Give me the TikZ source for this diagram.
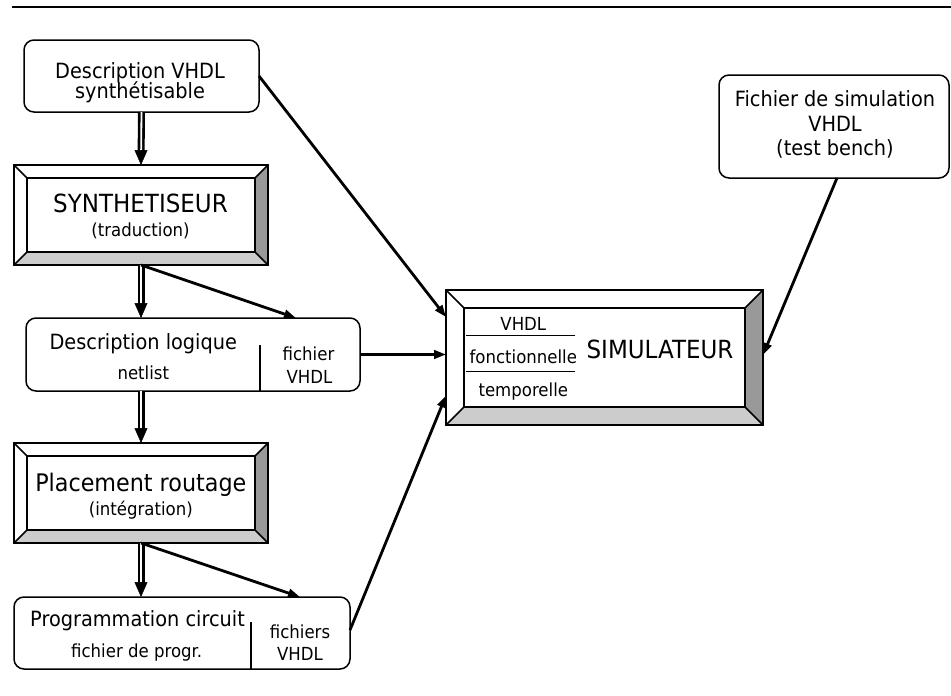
\documentclass[tikz,border=0pt]{standalone}
\usepackage{fontspec}
\setmainfont[FakeStretch=0.92]{DejaVu Sans}
\usetikzlibrary{arrows.meta,calc}

% raised frame: white top/left faces, shaded right/bottom faces
\newcommand\bevelframe[2]{%
  \fill[white] (#1.north west) rectangle (#1.south east);
  \fill[bevR] (#1.north east) -- (#1.south east) -- ($(#1.south east)+(-#2,-#2)$) -- ($(#1.north east)+(-#2,#2)$) -- cycle;
  \fill[bevB] (#1.south west) -- (#1.south east) -- ($(#1.south east)+(-#2,-#2)$) -- ($(#1.south west)+(#2,-#2)$) -- cycle;
  \draw[frame] (#1.north west) rectangle (#1.south east);
  \draw[frame] ($(#1.north west)+(#2,#2)$) rectangle ($(#1.south east)+(-#2,-#2)$);
  \draw[frame] (#1.north west) -- ++(#2,#2) (#1.north east) -- ++(-#2,#2)
               (#1.south east) -- ++(-#2,-#2) (#1.south west) -- ++(#2,-#2);
}

\colorlet{bevR}{black!40}
\colorlet{bevB}{black!20}

\begin{document}
\begin{tikzpicture}[x=1pt,y=-1pt,
  frame/.style={line width=1.5pt, line join=miter},
  rbox/.style={draw, line width=1.5pt, rounded corners=10pt, fill=white,
               inner sep=0pt, outer sep=0pt},
  bbox/.style={inner sep=0pt, outer sep=0pt},
  txt/.style={anchor=base, inner sep=0pt, outer sep=0pt},
  big/.style={txt, font=\fontsize{25}{28}\selectfont},
  mid/.style={txt, font=\fontsize{21}{24}\selectfont},
  sml/.style={txt, font=\fontsize{18}{20}\selectfont},
  conn/.style={line width=2.8pt, -{Triangle[width=8.5pt,length=12pt]}},
  dshaft/.style={double=white, double distance=1.8pt, line width=2.6pt, shorten >=14pt},
  dhead/.style={line width=0.5pt, -{Triangle[width=13pt,length=15pt]}},
]
\useasboundingbox (0,0) rectangle (951,696);

% page rule
\coordinate (ruleL) at (12,7);
\coordinate (ruleR) at (951,7);
\draw[line width=2pt] (ruleL) -- (ruleR);

% ---------- boxes ----------
\node[rbox, minimum width=235pt, minimum height=72pt] (d1) at (141.5,76) {};
\node[mid] (d1a) at (140,78) {Description VHDL};
\node[mid] (d1b) at (140,98) {synthétisable};

\node[bbox, minimum width=254pt, minimum height=100pt] (syn) at (141,215) {};
\bevelframe{syn}{13}
\node[big] (syna) at (140.5,212.7) {SYNTHETISEUR};
\node[sml] (synb) at (140.5,236) {(traduction)};

\node[rbox, minimum width=334pt, minimum height=73pt] (dl) at (193,354.5) {};
\draw[line width=1.2pt] ($(dl.south west)+(234,0)$) -- ++(0,-46);
\node[mid] (dla) at (143.3,349) {Description logique};
\node[sml] (dlb) at (143.3,379) {netlist};
\node[sml] (dlc) at (308.5,360) {fichier};
\node[sml] (dld) at (309.5,383) {VHDL};

\node[bbox, minimum width=254pt, minimum height=100pt] (pr) at (141,493) {};
\bevelframe{pr}{13}
\node[big, font=\fontsize{24.2}{28}\selectfont] (pra) at (140.8,491.7) {Placement routage};
\node[sml] (prb) at (140.8,515) {(intégration)};

\node[rbox, minimum width=336pt, minimum height=72pt] (pc) at (182,633) {};
\draw[line width=1.2pt] ($(pc.south west)+(237,0)$) -- ++(0,-47);
\node[mid] (pca) at (137.5,626.7) {Programmation circuit};
\node[sml] (pcb) at (136.7,657.7) {fichier de progr.};
\node[sml] (pcc) at (300,638) {fichiers};
\node[sml] (pcd) at (300,660.7) {VHDL};

\node[bbox, minimum width=317pt, minimum height=135pt] (sim) at (604.5,357.5) {};
\bevelframe{sim}{18}
\node[sml] (sima) at (523.3,330.7) {VHDL};
\node[sml] (simb) at (523.3,363) {fonctionnelle};
\node[sml] (simc) at (523.3,396.7) {temporelle};
\node[big] (simd) at (660,358) {SIMULATEUR};
\coordinate (s1L) at (466,335.7);
\coordinate (s1R) at (575,335.7);
\coordinate (s2L) at (466,371.7);
\coordinate (s2R) at (575,371.7);
\draw[line width=1.2pt] (s1L) -- (s1R) (s2L) -- (s2R);

\node[rbox, minimum width=230pt, minimum height=103pt] (tb) at (834,126.5) {};
\node[mid] (tba) at (835,106) {Fichier de simulation};
\node[mid] (tbb) at (835,131.7) {VHDL};
\node[mid] (tbc) at (835,155) {(test bench)};

% ---------- main flow (double arrows) ----------
\draw[dshaft] (d1.south) -- (syn.north);
\draw[dhead] ($(syn.north)+(0,-15)$) -- (syn.north);

\draw[dshaft] (syn.south) -- (syn.south |- dl.north);
\draw[dhead] ($(syn.south |- dl.north)+(0,-15)$) -- (syn.south |- dl.north);

\draw[dshaft] (pr.north |- dl.south) -- (pr.north);
\draw[dhead] ($(pr.north)+(0,-15)$) -- (pr.north);

\draw[dshaft] (pr.south) -- (pr.south |- pc.north);
\draw[dhead] ($(pr.south |- pc.north)+(0,-15)$) -- (pr.south |- pc.north);

% ---------- files towards the simulator ----------
\draw[conn] (syn.south) -- ($(dl.north)+(103,0)$);
\draw[conn] (pr.south) -- ($(pc.north)+(118,0)$);

\draw[conn] (d1.east) -- ($(sim.west)+(0,-40.5)$);
\draw[conn] (dl.east) -- (dl.east -| sim.west);
\draw[conn] ($(pc.east)+(0,-3)$) -- ($(sim.west)+(0,38)$);
\draw[conn] ($(tb.south)+(3,0)$) -- ($(sim.east)+(0,-2.5)$);
\end{tikzpicture}
\end{document}
